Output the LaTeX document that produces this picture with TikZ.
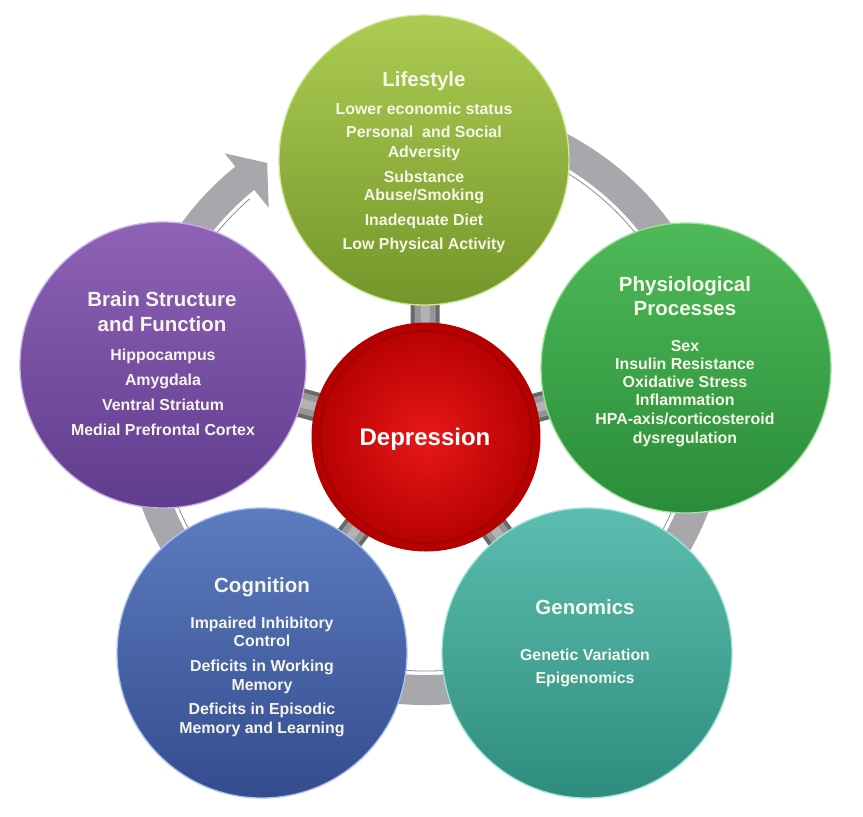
\documentclass[tikz,border=0pt]{standalone}
\usepackage{fontspec}
\setmainfont{Liberation Sans}
\usetikzlibrary{calc,backgrounds}
\pgfdeclarelayer{bottom}
\pgfsetlayers{bottom,background,main}
\definecolor{txtc}{RGB}{246,246,232}
\definecolor{lifeT}{RGB}{172,204,82}
\definecolor{lifeB}{RGB}{116,150,42}
\definecolor{lifeR}{RGB}{205,232,150}
\definecolor{physT}{RGB}{78,186,88}
\definecolor{physB}{RGB}{42,140,58}
\definecolor{physR}{RGB}{160,225,160}
\definecolor{genT}{RGB}{92,190,176}
\definecolor{genB}{RGB}{46,140,126}
\definecolor{genR}{RGB}{160,228,215}
\definecolor{cogT}{RGB}{92,124,192}
\definecolor{cogB}{RGB}{52,76,142}
\definecolor{cogR}{RGB}{170,192,238}
\definecolor{brT}{RGB}{142,98,182}
\definecolor{brB}{RGB}{96,60,142}
\definecolor{brR}{RGB}{196,172,228}
\definecolor{redI}{RGB}{232,24,24}
\definecolor{redO}{RGB}{180,0,0}
\definecolor{redL}{RGB}{130,0,0}
\definecolor{ringc}{RGB}{168,168,172}
\definecolor{ringl}{RGB}{140,140,145}
\definecolor{connA}{RGB}{105,105,105}
\definecolor{connB}{RGB}{150,150,150}
\definecolor{connC}{RGB}{178,178,178}
\begin{document}
\begin{tikzpicture}[x=1pt,y=-1pt,
  outer/.style={circle, inner sep=0pt, minimum size=290pt, line width=1.3pt},
  ttl/.style={text=txtc, inner sep=0pt, font=\bfseries\fontsize{20.5}{24}\selectfont, text height=14.8pt, text depth=0pt},
  bod/.style={text=txtc, inner sep=0pt, font=\bfseries\fontsize{15.9}{18}\selectfont, text height=11.4pt, text depth=0pt},
  connA/.style={line width=29pt, draw=connA},
  connB/.style={line width=21pt, draw=connB},
  connC/.style={line width=9pt, draw=connC}]
\useasboundingbox (0,0) rectangle (863,817);
\begin{pgfonlayer}{bottom}
\fill[white] (0,0) rectangle (863,817);
\end{pgfonlayer}

% circles
\node[outer, top color=lifeT, bottom color=lifeB, draw=lifeR] (life) at (424,160) {};
\node[outer, top color=physT, bottom color=physB, draw=physR] (phys) at (686,368) {};
\node[outer, top color=genT, bottom color=genB, draw=genR] (gen) at (587,653) {};
\node[outer, top color=cogT, bottom color=cogB, draw=cogR] (cog) at (262,653) {};
\node[outer, minimum size=286pt, top color=brT, bottom color=brB, draw=brR] (brain) at (163,365) {};
\node[circle, inner sep=0pt, minimum size=228pt, inner color=redI, outer color=redO, draw=redO, line width=1pt] (dep) at (426,437) {};
\draw[redL, line width=1.2pt, opacity=0.6] (dep.center) circle[radius=106];

% ring arrow and connectors behind
\begin{pgfonlayer}{background}
\coordinate (O) at (426,402);
\fill[ringc] ($(O)+(-100:303)$) arc[start angle=-100, end angle=231, radius=303]
  -- ($(O)+(231:320)$) -- ($(O)+(236.4:287)$) -- ($(O)+(231:250)$)
  -- ($(O)+(231:273)$) arc[start angle=231, end angle=-100, radius=273] -- cycle;
\draw[ringl, line width=0.8pt] ($(O)+(-100:269)$) arc[start angle=-100, end angle=229, radius=269];
\foreach \n in {life,phys,gen,cog,brain}{
  \draw[connA] (dep.center) -- (\n.center);
  \draw[connB] (dep.center) -- (\n.center);
  \draw[connC] (dep.center) -- (\n.center);
}
\end{pgfonlayer}

% Lifestyle
\node[ttl] (l0) at (424,79) {Lifestyle};
\node[bod] (l1) at (424,109) {Lower economic status};
\node[bod] (l2) at (424,132) {Personal\ \ and Social};
\node[bod] (l3) at (424,152) {Adversity};
\node[bod] (l4) at (424,177) {Substance};
\node[bod] (l5) at (424,195) {Abuse/Smoking};
\node[bod] (l6) at (424,220) {Inadequate Diet};
\node[bod] (l7) at (424,244) {Low Physical Activity};

% Physiological
\node[ttl] (p0) at (685,284) {Physiological};
\node[ttl] (p1) at (685,308) {Processes};
\node[bod] (p2) at (685,346) {Sex};
\node[bod] (p3) at (685,364) {Insulin Resistance};
\node[bod] (p4) at (685,382) {Oxidative Stress};
\node[bod] (p5) at (685,400) {Inflammation};
\node[bod] (p6) at (685,419) {HPA-axis/corticosteroid};
\node[bod] (p7) at (685,438) {dysregulation};

% Brain
\node[ttl] (b0) at (162,299) {Brain Structure};
\node[ttl] (b1) at (162,324) {and Function};
\node[bod] (b2) at (163,355) {Hippocampus};
\node[bod] (b3) at (163,380) {Amygdala};
\node[bod] (b4) at (163,405) {Ventral Striatum};
\node[bod] (b5) at (163,430) {Medial Prefrontal Cortex};

% Depression
\node[text=white, inner sep=0pt, font=\bfseries\fontsize{24}{28}\selectfont, text height=17.3pt, text depth=0pt] (d0) at (425,437) {Depression};

% Cognition
\node[ttl] (c0) at (262,585) {Cognition};
\node[bod] (c1) at (262,623) {Impaired Inhibitory};
\node[bod] (c2) at (262,641) {Control};
\node[bod] (c3) at (262,666) {Deficits in Working};
\node[bod] (c4) at (262,685) {Memory};
\node[bod] (c5) at (262,709) {Deficits in Episodic};
\node[bod] (c6) at (262,728) {Memory and Learning};

% Genomics
\node[ttl] (g0) at (585,607) {Genomics};
\node[bod] (g1) at (585,655) {Genetic Variation};
\node[bod] (g2) at (585,678) {Epigenomics};
\end{tikzpicture}
\end{document}
